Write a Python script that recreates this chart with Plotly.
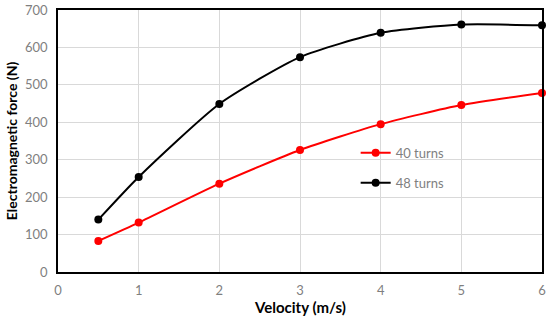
import plotly.graph_objects as go

velocity = [0.5, 1, 2, 3, 4, 5, 6]
force_40 = [83, 132, 236, 326, 395, 446, 478]
force_48 = [140, 254, 449, 574, 639, 661, 659]
x_ticks = [0, 1, 2, 3, 4, 5, 6]
y_ticks = [0, 100, 200, 300, 400, 500, 600, 700]

fig = go.Figure()
fig.add_trace(go.Scatter(x=velocity, y=force_40, mode="lines+markers", name="40 turns",
                         line=dict(color="#ff0000", width=2, shape="spline", smoothing=0.6),
                         marker=dict(size=8, color="#ff0000"), legend="legend", cliponaxis=False))
fig.add_trace(go.Scatter(x=velocity, y=force_48, mode="lines+markers", name="48 turns",
                         line=dict(color="#000000", width=2, shape="spline", smoothing=0.6),
                         marker=dict(size=8, color="#000000"), legend="legend2", cliponaxis=False))

font = "Lato, 'Open Sans', sans-serif"
gray = "#7f7f7f"
leg = dict(bgcolor="rgba(0,0,0,0)", font=dict(family=font, size=13, color=gray),
           xanchor="left", yanchor="middle", itemwidth=30)
fig.update_layout(
    width=550, height=325,
    margin=dict(l=58, r=8, t=10, b=53),
    paper_bgcolor="white", plot_bgcolor="white",
    showlegend=True,
    legend=dict(**leg, x=0.615, y=0.455),
    legend2=dict(**leg, x=0.615, y=0.34),
    xaxis=dict(range=[0, 6], tickvals=x_ticks, showgrid=True, gridcolor="#d9d9d9", gridwidth=1,
               showline=True, linecolor="black", linewidth=1.5, mirror=True, zeroline=False,
               automargin=False, ticks="", ticklen=0, ticklabelstandoff=6,
               tickfont=dict(family=font, size=13, color=gray)),
    yaxis=dict(range=[0, 700], tickvals=y_ticks, showgrid=True, gridcolor="#d9d9d9", gridwidth=1,
               showline=True, linecolor="black", linewidth=1.5, mirror=True, zeroline=False,
               automargin=False, ticks="", ticklen=0, ticklabelstandoff=6,
               tickfont=dict(family=font, size=13, color=gray),
               title=dict(text="<b>Electromagnetic force (N)</b>", font=dict(family=font, size=14, color="black"), standoff=4)),
    annotations=[dict(text="<b>Velocity (m/s)</b>", xref="paper", yref="paper", x=0.5, y=-0.133,
                      xanchor="center", yanchor="middle", showarrow=False,
                      font=dict(family=font, size=15, color="black"))],
)
fig.write_html("out.html", config={"displayModeBar": False},
               post_script="document.body.style.margin='0px';")
